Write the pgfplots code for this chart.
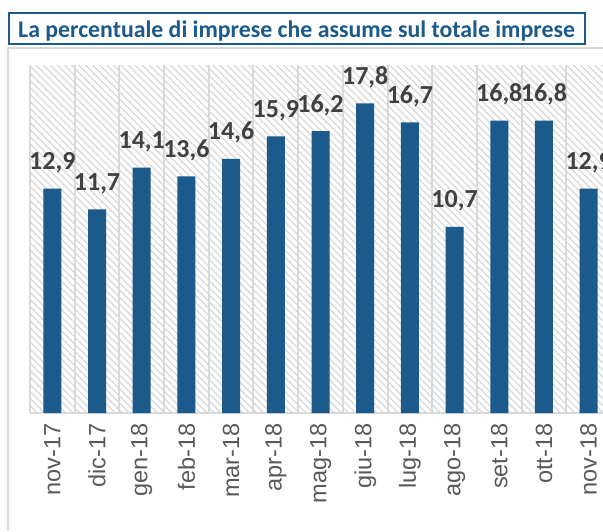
\documentclass[border=0pt]{standalone}
\usepackage{pgfplots}
\pgfplotsset{compat=1.18}
\usetikzlibrary{patterns.meta}
\usepackage{fontspec}
\setmainfont{Carlito}
\newfontfamily\arialfont{Liberation Sans}
\definecolor{barblue}{HTML}{1B5A8A}
\definecolor{lbl}{HTML}{404040}
\definecolor{tickc}{HTML}{595959}
\definecolor{gridc}{HTML}{D9D9D9}
\begin{document}
\begin{tikzpicture}
\useasboundingbox (0,0) rectangle (603pt,-531pt);
\fill[white] (0,0) rectangle (603pt,-531pt);
\draw[gridc, line width=2pt] (8pt,-531pt) -- (8pt,-48pt) -- (603pt,-48pt);
\draw[barblue, line width=1.5pt] (9pt,-13pt) rectangle (585pt,-44pt);
\node[anchor=base west, inner sep=0, text=barblue, font=\bfseries\fontsize{23.8}{26}\selectfont] at (18pt,-37pt) {La percentuale di imprese che assume sul totale imprese};
\begin{axis}[
 at={(30pt,-413pt)}, anchor=south west,
 scale only axis, width=581pt, height=348pt,
 xmin=-0.5, xmax=12.5, ymin=0, ymax=20,
 ybar, bar width=18pt,
 axis x line=bottom, axis y line=none,
 x axis line style={gridc, line width=2pt, -},
 xtick={0,...,12},
 xticklabels={nov-17,dic-17,gen-18,feb-18,mar-18,apr-18,mag-18,giu-18,lug-18,ago-18,set-18,ott-18,nov-18},
 major tick length=0pt,
 xticklabel shift=7pt,
 xticklabel style={rotate=90, anchor=east, font=\arialfont\fontsize{23.5}{23.5}\selectfont, text=tickc},
 extra x ticks={-0.5,0.5,...,12.5}, extra x tick labels={},
 extra x tick style={grid=major, major grid style={gridc, line width=2pt}},
 axis background/.style={preaction={fill=white}, pattern={Lines[angle=-45,distance=5pt,line width=1.3pt]}, pattern color=gridc},
 nodes near coords, point meta=explicit symbolic,
 nodes near coords style={anchor=base, yshift=19pt, font=\bfseries\fontsize{26}{28}\selectfont, text=lbl},
]
\addplot[fill=barblue, draw=none] coordinates {
(0,12.9) [12,9]
(1,11.7) [11,7]
(2,14.1) [14,1]
(3,13.6) [13,6]
(4,14.6) [14,6]
(5,15.9) [15,9]
(6,16.2) [16,2]
(7,17.8) [17,8]
(8,16.7) [16,7]
(9,10.7) [10,7]
(10,16.8) [16,8]
(11,16.8) [16,8]
(12,12.9) [12,9]
};
\end{axis}
\end{tikzpicture}
\end{document}
